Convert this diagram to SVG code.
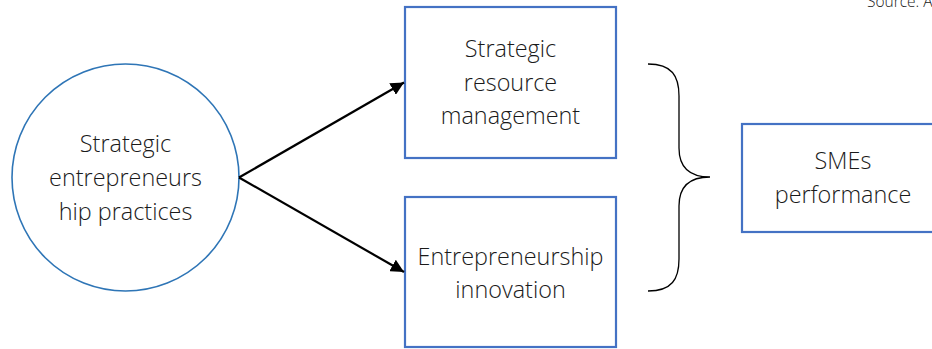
<svg xmlns="http://www.w3.org/2000/svg" width="932" height="349" viewBox="0 0 932 349">
<defs>
<style>
.box{fill:#fff;stroke:#4472C4;stroke-width:2.2}
.circ{fill:#fff;stroke:#2E75B6;stroke-width:1.6}
.t{font-family:"Open Sans","Noto Sans","DejaVu Sans",sans-serif;font-size:23.4px;font-weight:300;fill:#1a1a1a;text-anchor:middle}
.conn{stroke:#000;stroke-width:2.2;fill:none}
</style>
<marker id="ah" viewBox="0 0 10 10" refX="10" refY="5" markerWidth="6" markerHeight="6" markerUnits="strokeWidth" orient="auto">
<path d="M0,0 L10,5 L0,10 z" fill="#000"/>
</marker>
</defs>
<rect width="932" height="349" fill="#fff"/>
<text x="867" y="7" style="font-family:'Open Sans','Noto Sans',sans-serif;font-size:15.5px;font-weight:300;fill:#222">Source: A</text>
<g id="node-practices">
<circle class="circ" cx="125.5" cy="177.5" r="113.5"/>
<text class="t" x="125.5" y="152">Strategic</text>
<text class="t" x="125.5" y="186">entrepreneurs</text>
<text class="t" x="125.5" y="220">hip practices</text>
</g>
<g id="node-srm">
<rect class="box" x="405" y="7" width="211" height="151"/>
<text class="t" x="510.5" y="57">Strategic</text>
<text class="t" x="510.5" y="91">resource</text>
<text class="t" x="510.5" y="124">management</text>
</g>
<g id="node-innov">
<rect class="box" x="405" y="197" width="211" height="150"/>
<text class="t" x="510.5" y="265">Entrepreneurship</text>
<text class="t" x="510.5" y="298">innovation</text>
</g>
<g id="node-sme">
<rect class="box" x="742" y="124" width="200" height="108"/>
<text class="t" x="843" y="169">SMEs</text>
<text class="t" x="843" y="203">performance</text>
</g>
<g id="connectors">
<line class="conn" x1="239" y1="177.5" x2="404" y2="82.5" marker-end="url(#ah)"/>
<line class="conn" x1="239" y1="177.5" x2="404" y2="272" marker-end="url(#ah)"/>
<path d="M648,64 C672,64 679,76 679,96 L679,148 C679,168 690,177 710,177 C690,177 679,186 679,206 L679,259 C679,279 672,291 648,291" fill="none" stroke="#000" stroke-width="1.3"/>
</g>
</svg>
